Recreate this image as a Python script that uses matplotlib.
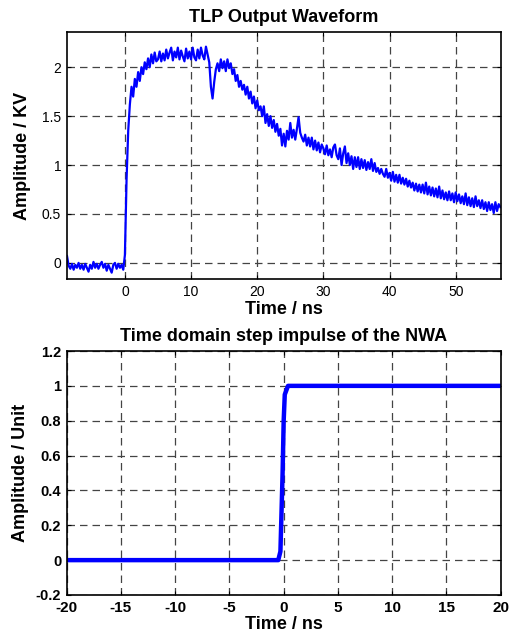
import numpy as np
import matplotlib
matplotlib.use("Agg")
import matplotlib.pyplot as plt

plt.rcParams['font.family'] = ['Liberation Sans', 'DejaVu Sans']

# ---------------- data ----------------
# TLP waveform, sampled every 0.25 ns starting at -8.75 ns (kV)
tlp_t0 = -8.75
tlp_dt = 0.25
tlp_kv = [
    # baseline (-8.75 .. -0.25)
    0.07, -0.03, -0.06, -0.01, -0.07, -0.02, -0.05, 0.0, -0.06, -0.02,
    -0.07, -0.01, -0.05, -0.09, -0.02, -0.06, 0.01, -0.05, -0.01, -0.06,
    -0.02, 0.01, -0.05, -0.01, -0.08, -0.02, -0.06, -0.1, -0.02, 0.0,
    -0.06, -0.01, -0.05, -0.02, -0.07,
    # rise (0 .. 4.75)
    0.08, 0.85, 1.35, 1.62, 1.8, 1.7, 1.88, 1.8, 1.95, 1.86,
    2.0, 1.93, 2.05, 1.98, 2.09, 2.0, 2.13, 2.04, 2.15, 2.06,
    # plateau (5 .. 12.5)
    2.08, 2.16, 2.06, 2.14, 2.07, 2.18, 2.09, 2.15, 2.2, 2.07,
    2.16, 2.1, 2.2, 2.08, 2.17, 2.11, 2.06, 2.19, 2.09, 2.16,
    2.08, 2.2, 2.1, 2.07, 2.18, 2.09, 2.2, 2.12, 2.08, 2.21, 2.13,
    # dip and recovery (12.75 .. 17.75)
    2.05, 1.8, 1.68, 1.85, 1.98, 2.04, 1.96, 2.08, 1.99, 2.06,
    1.96, 2.08, 1.99, 2.04, 1.93, 1.98, 1.86, 1.92, 1.8, 1.86, 1.77,
    # decay (18 .. 27.75)
    1.82, 1.72, 1.8, 1.68, 1.75, 1.63, 1.7, 1.58, 1.66, 1.56,
    1.6, 1.5, 1.6, 1.43, 1.52, 1.4, 1.5, 1.38, 1.46, 1.34,
    1.42, 1.3, 1.37, 1.2, 1.32, 1.19, 1.35, 1.26, 1.43, 1.28,
    1.36, 1.26, 1.37, 1.49, 1.33, 1.28, 1.24, 1.31, 1.2, 1.28,
    # tail (28 .. 56.75)
    1.19, 1.28, 1.16, 1.25, 1.15, 1.23, 1.13, 1.21,
    1.17, 1.11, 1.2, 1.1, 1.16, 1.08, 1.18, 1.21,
    1.1, 1.06, 1.17, 1.0, 1.12, 1.19, 1.02, 1.12,
    1.0, 1.09, 0.96, 1.08, 0.98, 1.08, 0.96, 1.06,
    0.97, 1.05, 0.95, 1.03, 0.96, 1.06, 0.94, 1.02,
    0.93, 0.97, 0.91, 0.96, 0.91, 0.88, 0.96, 0.87,
    0.92, 0.84, 0.93, 0.83, 0.9, 0.82, 0.9, 0.81,
    0.87, 0.8, 0.86, 0.78, 0.84, 0.77, 0.82, 0.74,
    0.81, 0.73, 0.8, 0.72, 0.8, 0.71, 0.82, 0.7,
    0.78, 0.69, 0.77, 0.68, 0.76, 0.67, 0.78, 0.66,
    0.74, 0.65, 0.72, 0.64, 0.73, 0.64, 0.71, 0.62,
    0.72, 0.63, 0.7, 0.61, 0.68, 0.6, 0.71, 0.59,
    0.67, 0.58, 0.66, 0.57, 0.68, 0.58, 0.64, 0.56,
    0.64, 0.55, 0.62, 0.53, 0.62, 0.54, 0.6, 0.51,
    0.62, 0.53, 0.6, 0.57,
]
tlp_time = tlp_t0 + tlp_dt * np.arange(len(tlp_kv))

# NWA step response
step_time = [-20, -0.5, -0.3, -0.1, 0.0, 0.1, 0.4, 20]
step_amp = [0.0, 0.0, 0.05, 0.5, 0.8, 0.95, 1.0, 1.0]

top_xticks = [0, 10, 20, 30, 40, 50]
top_yticks = [0, 0.5, 1, 1.5, 2]
bot_xticks = [-20, -15, -10, -5, 0, 5, 10, 15, 20]
bot_yticks = [-0.2, 0, 0.2, 0.4, 0.6, 0.8, 1, 1.2]


def style_axes(ax):
    ax.grid(True, color='#444444', linestyle=(0, (6, 4)), linewidth=0.9)
    ax.tick_params(direction='in', top=True, right=True, length=3, pad=4)
    for sp in ax.spines.values():
        sp.set_linewidth(1.2)


fig = plt.figure(figsize=(5.11, 6.36), dpi=100)

# ---------------- top plot ----------------
ax1 = fig.add_axes([0.1305, 0.5613, 0.8493, 0.3884])
ax1.plot(tlp_time, tlp_kv, color='#0000ff', linewidth=1.6)
ax1.set_xlim(-8.8, 56.8)
ax1.set_ylim(-0.165, 2.36)
ax1.set_xticks(top_xticks)
ax1.set_yticks(top_yticks)
ax1.set_xticklabels([f"{v:g}" for v in top_xticks], fontsize=10)
ax1.set_yticklabels([f"{v:g}" for v in top_yticks], fontsize=10)
style_axes(ax1)
ax1.set_title('TLP Output Waveform', fontsize=13, fontweight='bold', pad=7)
ax1.set_xlabel('Time / ns', fontsize=13, fontweight='bold', labelpad=2)
ax1.set_ylabel('Amplitude / KV', fontsize=13, fontweight='bold', labelpad=8)

# ---------------- bottom plot ----------------
ax2 = fig.add_axes([0.1305, 0.0645, 0.8493, 0.3836])
ax2.plot(step_time, step_amp, color='#0000ff', linewidth=3.2)
ax2.set_xlim(-20, 20)
ax2.set_ylim(-0.2, 1.2)
ax2.set_xticks(bot_xticks)
ax2.set_yticks(bot_yticks)
ax2.set_xticklabels([f"{v:g}" for v in bot_xticks], fontsize=11,
                    fontweight='bold')
ax2.set_yticklabels([f"{v:g}" for v in bot_yticks], fontsize=10.5,
                    fontweight='bold')
style_axes(ax2)
ax2.set_title('Time domain step impulse of the NWA', fontsize=13,
              fontweight='bold', pad=7)
ax2.set_xlabel('Time / ns', fontsize=13, fontweight='bold', labelpad=1)
ax2.set_ylabel('Amplitude / Unit', fontsize=13, fontweight='bold', labelpad=5)

fig.savefig('out.png', dpi=100)
